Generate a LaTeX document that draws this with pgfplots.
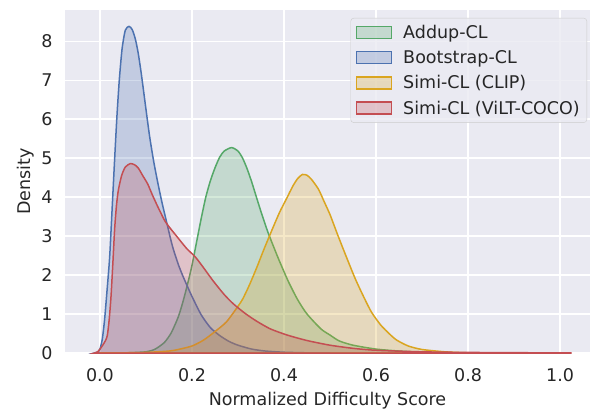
\documentclass[border=0pt]{standalone}
\usepackage{fontspec}
\setmainfont{DejaVu Sans}
\usepackage{pgfplots}
\usepackage{pgfplotstable}
\pgfplotsset{compat=1.18}
\definecolor{bg}{HTML}{EAEAF2}
\definecolor{txt}{HTML}{262626}
\definecolor{lgray}{HTML}{CCCCCC}
\definecolor{cgreen}{HTML}{55A868}
\definecolor{cblue}{HTML}{4C72B0}
\definecolor{cyellow}{HTML}{DAA520}
\definecolor{cred}{HTML}{C44E52}

\pgfplotstableread{
x y
0.05 0
0.10 0.03
0.12 0.1
0.14 0.27
0.155 0.52
0.17 0.92
0.18 1.3
0.19 1.75
0.20 2.25
0.21 2.85
0.22 3.45
0.23 4.0
0.24 4.42
0.25 4.75
0.26 5.02
0.27 5.18
0.286 5.27
0.30 5.18
0.31 5.0
0.32 4.72
0.33 4.38
0.34 4.0
0.352 3.55
0.365 3.1
0.38 2.65
0.39 2.36
0.41 1.82
0.43 1.36
0.45 1.0
0.48 0.62
0.50 0.46
0.52 0.31
0.55 0.2
0.60 0.1
0.65 0.05
0.70 0.02
0.75 0.005
0.80 0
}\addup

\pgfplotstableread{
x y
-0.012 0
-0.004 0.03
0.0 0.1
0.005 0.35
0.01 0.85
0.015 1.55
0.021 2.45
0.026 3.6
0.032 5.0
0.037 6.1
0.042 7.0
0.048 7.8
0.055 8.28
0.063 8.38
0.07 8.3
0.077 8.05
0.083 7.7
0.09 7.15
0.10 6.25
0.108 5.55
0.117 4.9
0.126 4.35
0.135 3.85
0.145 3.35
0.152 3.0
0.159 2.68
0.17 2.28
0.18 1.98
0.19 1.71
0.20 1.45
0.22 0.98
0.24 0.65
0.26 0.45
0.28 0.3
0.30 0.2
0.33 0.1
0.36 0.05
0.40 0.02
0.45 0.005
0.50 0
}\boot

\pgfplotstableread{
x y
0.0 0
0.05 0.005
0.10 0.015
0.15 0.05
0.17 0.09
0.20 0.18
0.225 0.33
0.25 0.55
0.275 0.8
0.30 1.2
0.31 1.38
0.325 1.75
0.341 2.2
0.355 2.62
0.37 3.05
0.39 3.6
0.405 3.95
0.42 4.3
0.43 4.48
0.44 4.58
0.45 4.56
0.46 4.45
0.475 4.2
0.487 3.89
0.50 3.55
0.516 3.05
0.536 2.45
0.555 1.9
0.574 1.42
0.59 1.05
0.61 0.72
0.63 0.48
0.645 0.33
0.67 0.18
0.70 0.09
0.75 0.03
0.80 0.005
0.85 0
}\clip

\pgfplotstableread{
x y
-0.012 0
-0.005 0.03
0.0 0.1
0.006 0.2
0.012 0.32
0.016 0.45
0.02 0.85
0.024 1.45
0.028 2.3
0.032 3.2
0.036 3.8
0.04 4.18
0.047 4.55
0.055 4.77
0.066 4.86
0.075 4.83
0.083 4.75
0.093 4.55
0.104 4.33
0.113 4.08
0.123 3.82
0.132 3.6
0.141 3.39
0.152 3.21
0.163 3.05
0.18 2.8
0.19 2.66
0.206 2.48
0.22 2.27
0.246 1.85
0.27 1.5
0.29 1.26
0.315 1.02
0.34 0.82
0.37 0.62
0.407 0.46
0.45 0.32
0.50 0.2
0.55 0.12
0.60 0.07
0.70 0.03
0.80 0.015
0.90 0.008
1.00 0.003
1.025 0
}\vilt

\newcommand{\fs}{\fontsize{17.5}{21}\selectfont}

\begin{document}
\begin{tikzpicture}
\begin{axis}[
  name=ax,
  scale only axis,
  width=525pt, height=343pt,
  xmin=-0.076, xmax=1.065, ymin=0, ymax=8.8,
  axis background/.style={fill=bg},
  axis line style={draw=none},
  grid=major,
  grid style={white, line width=1.3pt},
  major tick length=0pt,
  tick style={draw=none},
  xtick={0,0.2,0.4,0.6,0.8,1.0},
  xticklabels={0.0,0.2,0.4,0.6,0.8,1.0},
  ytick={0,1,2,3,4,5,6,7,8},
  /pgf/number format/assume math mode=true,
  ticklabel style={font=\fs, text=txt},
  xticklabel style={yshift=-12pt},
  yticklabel style={xshift=-9pt},
  xlabel={Normalized Difficulty Score},
  ylabel={Density},
  label style={font=\fs, text=txt},
  xlabel style={yshift=-4pt},
  ylabel style={yshift=0pt},
  legend cell align=left,
  legend style={at={(rel axis cs:0.9943,0.9767)}, anchor=north east,
    fill=bg, fill opacity=0.8, draw opacity=1, text opacity=1, draw=lgray,
    rounded corners=3pt, font=\fs, text=txt, row sep=6.5pt, column sep=9pt,
    inner xsep=5pt, inner ysep=5pt},
  legend image code/.code={\draw[#1, sharp corners, line width=1.5pt] (0pt,-6pt) rectangle (35pt,6pt);},
]
\addplot[draw=cgreen, fill=cgreen, fill opacity=0.25, line width=1.5pt, smooth, tension=0.4] table[x=x,y=y] {\addup} \closedcycle;
\addlegendentry{Addup-CL}
\addplot[draw=cblue, fill=cblue, fill opacity=0.25, line width=1.5pt, smooth, tension=0.4] table[x=x,y=y] {\boot} \closedcycle;
\addlegendentry{Bootstrap-CL}
\addplot[draw=cyellow, fill=cyellow, fill opacity=0.25, line width=1.5pt, smooth, tension=0.4] table[x=x,y=y] {\clip} \closedcycle;
\addlegendentry{Simi-CL (CLIP)}
\addplot[draw=cred, fill=cred, fill opacity=0.25, line width=1.5pt, smooth, tension=0.4] table[x=x,y=y] {\vilt} \closedcycle;
\addlegendentry{Simi-CL (ViLT-COCO)}
\end{axis}
\pgfresetboundingbox
\path[use as bounding box] ([xshift=-65pt,yshift=-57pt]ax.south west) rectangle ([yshift=10pt]ax.north east);
\end{tikzpicture}
\end{document}
